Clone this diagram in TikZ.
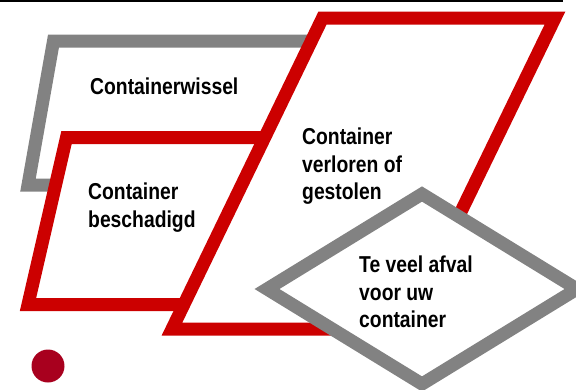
\documentclass[tikz,border=0pt]{standalone}
\usepackage{fontspec}
\setmainfont[FakeStretch=0.84]{Liberation Sans}
\usepackage{tikz}

\definecolor{boxred}{HTML}{CC0000}
\definecolor{boxgray}{HTML}{828282}
\definecolor{dotred}{HTML}{A8001E}

\begin{document}
\begin{tikzpicture}[x=1pt,y=-1pt,
    redbox/.style={draw=boxred,fill=white,line width=13pt},
    graybox/.style={draw=boxgray,fill=white,line width=13pt},
    lab/.style={anchor=north west,inner sep=0pt,align=left,
      font=\bfseries\fontsize{23}{27.5}\selectfont}]

    \useasboundingbox (0,0) rectangle (576,389);
    \draw[line width=1.5pt] (0,1) -- (563,1);

    % parallellogrammen, van achter naar voor
    \draw[graybox] (53.5,41) -- (330,41) -- (304.5,185) -- (28,185) -- cycle;
    \draw[redbox] (66.5,137.5) -- (270,137.5) -- (231.5,304.5) -- (28,304.5) -- cycle;
    \draw[redbox] (322.5,18) -- (555,18) -- (404,329) -- (172,329) -- cycle;

    % ruit
    \def\rx{155} \def\ry{95}
    \draw[graybox] (422,289) +(-\rx,0) -- +(0,-\ry) -- +(\rx,0) -- +(0,\ry) -- cycle;

    \fill[dotred] (48,366) circle (16.5);

    \node[lab] (wissel) at (90,78) {Containerwissel};
    \node[lab] (schade) at (88,183) {Container\\beschadigd};
    \node[lab] (verloren) at (302,128) {Container\\verloren of\\gestolen};
    \node[lab] (afval) at (359,256) {Te veel afval\\voor uw\\container};

  \end{tikzpicture}
\end{document}
